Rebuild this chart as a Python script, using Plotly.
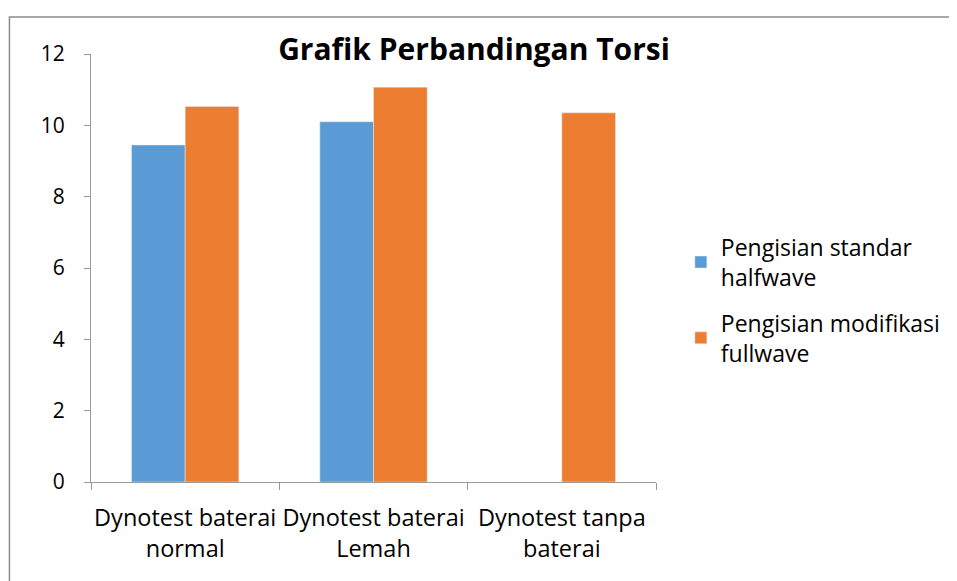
import plotly.graph_objects as go

categories = ["Dynotest baterai<br>normal", "Dynotest baterai<br>Lemah", "Dynotest tanpa<br>baterai"]
halfwave = [9.45, 10.1, None]
fullwave = [10.53, 11.07, 10.35]
series_names = ["Pengisian standar<br>halfwave", "Pengisian modifikasi<br>fullwave"]
y_ticks = [0, 2, 4, 6, 8, 10, 12]

FONT = "Open Sans"
W, H = 949, 573  # page body has 8px offset

fig = go.Figure()
fig.add_trace(go.Bar(x=categories, y=halfwave, name=series_names[0], marker_color="#5B9BD5", legendgroup="a"))
fig.add_trace(go.Bar(x=categories, y=fullwave, name=series_names[1], marker_color="#ED7D31", legendgroup="b"))

fig.update_layout(
    width=W, height=H,
    margin=dict(l=83, r=298, t=46, b=99),
    paper_bgcolor="white", plot_bgcolor="white",
    barmode="group", bargap=0.43, bargroupgap=0,
    font=dict(family=FONT, size=20, color="#000000"),
    title=dict(text="<b>Grafik Perbandingan Torsi</b>", x=466/W, xanchor="center",
               y=1-41/H, yanchor="middle", font=dict(family=FONT, size=30, color="#000")),
    legend=dict(x=1.044, xanchor="left", y=0.425, yanchor="middle",
                font=dict(family=FONT, size=23), tracegroupgap=13, itemwidth=30),
    showlegend=True,
)
fig.update_yaxes(range=[0, 12], tickvals=y_ticks, showgrid=False, zeroline=False,
                 showline=True, linecolor="#9a9a9a", linewidth=1, automargin=False,
                 ticks="outside", ticklen=6, tickcolor="#9a9a9a", ticklabelstandoff=15,
                 tickfont=dict(family=FONT, size=21))
fig.update_xaxes(showgrid=False, showline=True, linecolor="#9a9a9a", linewidth=1, automargin=False,
                 ticks="outside", ticklen=7, tickcolor="#9a9a9a", tickson="boundaries",
                 tickangle=0, ticklabelstandoff=15, tickfont=dict(family=FONT, size=23.5))

fig.add_shape(type="rect", xref="paper", yref="paper",
              x0=(9-91)/568, x1=(975-91)/568, y0=-0.4, y1=1+(54-17)/428,
              line=dict(color="#8c8c8c", width=1.5), fillcolor="rgba(0,0,0,0)", layer="below")

fig.write_html("out.html")
